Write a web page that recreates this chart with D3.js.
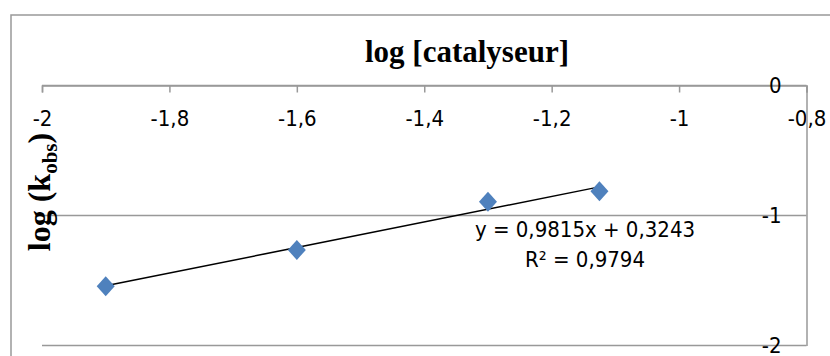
<!DOCTYPE html>
<html>
<head>
<meta charset="utf-8">
<script src="https://cdn.jsdelivr.net/npm/d3@7"></script>
<style>
  body { margin: 0; background: #fff; }
  svg { display: block; }
</style>
</head>
<body>
<div id="chart"></div>
<script>
(() => {
  const width = 830;
  const height = 356;

  // data
  const logCatalyst = [-1.9, -1.6, -1.3, -1.125];
  const logKobs = [-1.545, -1.265, -0.895, -0.813];
  const xTicks = [-2, -1.8, -1.6, -1.4, -1.2, -1, -0.8];
  const yTicks = [0, -1, -2];
  const slope = 0.9815;
  const intercept = 0.3243;
  const rSquared = 0.9794;

  const fr = d3.formatLocale({
    decimal: ",",
    thousands: " ",
    grouping: [3],
    currency: ["", " €"],
    minus: "-",
  });
  const fmtTick = (d) => fr.format("~g")(d);
  const fmt4 = fr.format(".4f");

  const svg = d3
    .select("#chart")
    .append("svg")
    .attr("width", width)
    .attr("height", height);

  // chart frame
  svg
    .append("rect")
    .attr("x", 11)
    .attr("y", 15)
    .attr("width", 840)
    .attr("height", 360)
    .attr("fill", "#fff")
    .attr("stroke", "#999")
    .attr("stroke-width", 1.5);

  const x = d3.scaleLinear().domain([-2, -0.8]).range([42, 806.5]);
  const y = d3.scaleLinear().domain([-2, 0]).range([345.5, 85.5]);

  const sans = "'DejaVu Sans Condensed', 'DejaVu Sans', sans-serif";
  const serif = "'Liberation Serif', 'Times New Roman', serif";

  // horizontal grid lines (y = 0 acts as the x axis)
  svg
    .append("g")
    .selectAll("line")
    .data(yTicks)
    .join("line")
    .attr("x1", x(-2))
    .attr("x2", x(-0.8))
    .attr("y1", (d) => y(d))
    .attr("y2", (d) => y(d))
    .attr("stroke", "#999")
    .attr("stroke-width", 1.5);

  // x axis at the top (y = 0)
  const xAxis = svg
    .append("g")
    .attr("transform", `translate(0,${y(0)})`)
    .call(
      d3.axisBottom(x).tickValues(xTicks).tickFormat(fmtTick).tickSize(7).tickPadding(18)
    );
  xAxis.select(".domain").attr("stroke", "#999").attr("stroke-width", 1.5);
  xAxis.selectAll(".tick line").attr("stroke", "#999").attr("stroke-width", 1.5);
  xAxis
    .selectAll(".tick text")
    .attr("fill", "#000")
    .style("font-family", sans)
    .style("font-size", "22px");

  // y axis on the right (x = -0.8)
  const yAxis = svg
    .append("g")
    .attr("transform", `translate(${x(-0.8)},0)`)
    .call(d3.axisLeft(y).tickValues(yTicks).tickFormat(fmtTick).tickSize(0).tickPadding(25));
  yAxis.select(".domain").attr("stroke", "#999").attr("stroke-width", 1.5);
  yAxis
    .selectAll(".tick text")
    .attr("fill", "#000")
    .style("font-family", sans)
    .style("font-size", "22px");

  // trend line
  const xMin = d3.min(logCatalyst);
  const xMax = d3.max(logCatalyst);
  svg
    .append("line")
    .attr("x1", x(xMin))
    .attr("y1", y(slope * xMin + intercept))
    .attr("x2", x(xMax))
    .attr("y2", y(slope * xMax + intercept))
    .attr("stroke", "#000")
    .attr("stroke-width", 1.5);

  // diamond markers
  const points = logCatalyst.map((v, i) => ({ x: v, y: logKobs[i] }));
  svg
    .append("g")
    .selectAll("path")
    .data(points)
    .join("path")
    .attr("transform", (d) => `translate(${x(d.x)},${y(d.y)})`)
    .attr("d", "M0,-10L9,0L0,10L-9,0Z")
    .attr("fill", "#4F81BD");

  // equation labels
  const eq = svg
    .append("text")
    .attr("x", 585)
    .attr("y", 237)
    .attr("text-anchor", "middle")
    .style("font-family", sans)
    .style("font-size", "22px");
  eq.append("tspan").attr("x", 585).text(`y = ${fmt4(slope)}x + ${fmt4(intercept)}`);
  eq.append("tspan").attr("x", 585).attr("dy", 30).text(`R² = ${fmt4(rSquared)}`);

  // titles
  svg
    .append("text")
    .attr("x", 467)
    .attr("y", 62)
    .attr("text-anchor", "middle")
    .style("font-family", serif)
    .style("font-weight", "bold")
    .style("font-size", "31px")
    .text("log [catalyseur]");

  const yl = svg
    .append("text")
    .attr("transform", "translate(50,192) rotate(-90)")
    .attr("text-anchor", "middle")
    .style("font-family", serif)
    .style("font-weight", "bold")
    .style("font-size", "32px");
  yl.append("tspan").text("log (k");
  yl.append("tspan").attr("dy", 7).style("font-size", "21px").text("obs");
  yl.append("tspan").attr("dy", -7).text(")");
})();
</script>
</body>
</html>
